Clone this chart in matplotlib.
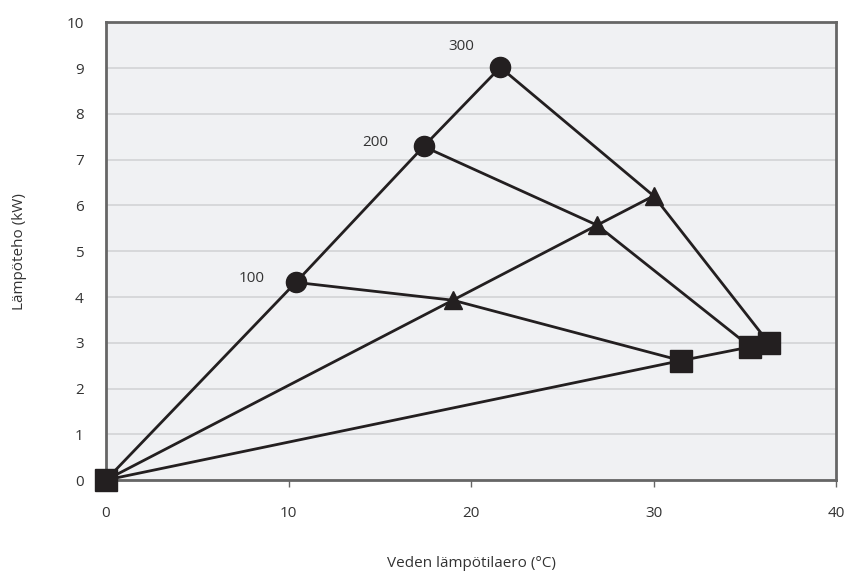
import matplotlib
matplotlib.use("Agg")
import matplotlib.pyplot as plt

plt.rcParams['font.family'] = ['Open Sans', 'DejaVu Sans']

# Data
circle_x = [0, 10.4, 17.4, 21.6]
circle_y = [0, 4.32, 7.29, 9.02]
tri_x = [0, 19.0, 26.9, 30.0]
tri_y = [0, 3.93, 5.57, 6.21]
sq_x = [0, 31.5, 35.3, 36.3]
sq_y = [0, 2.61, 2.91, 3.0]
flow_labels = ["100", "200", "300"]

x_ticks = [0, 10, 20, 30, 40]
y_ticks = list(range(0, 11))

black = '#231f20'
fs = 11
fig = plt.figure(figsize=(8.45, 5.72), dpi=100)
ax = fig.add_axes([0.1254, 0.1608, 0.8642, 0.7999])
ax.set_facecolor('#f0f1f3')

lw = 2.0
# lines from origin
ax.plot(circle_x, circle_y, color=black, lw=lw, zorder=3)
ax.plot(tri_x, tri_y, color=black, lw=lw, zorder=3)
ax.plot(sq_x, sq_y, color=black, lw=lw, zorder=3)
# connecting lines per flow
for i in range(1, 4):
    ax.plot([circle_x[i], tri_x[i], sq_x[i]], [circle_y[i], tri_y[i], sq_y[i]],
            color=black, lw=lw, zorder=3)

# markers
ax.plot(circle_x[1:], circle_y[1:], 'o', color=black, ms=14.5, zorder=4, clip_on=False)
ax.plot(tri_x[1:], tri_y[1:], '^', color=black, ms=13, zorder=4, clip_on=False)
ax.plot(sq_x, sq_y, 's', color=black, ms=16, zorder=5, clip_on=False)

# flow labels
offsets = [(-2.4, 0.08), (-2.65, 0.08), (-2.15, 0.45)]
for i, lab in enumerate(flow_labels):
    dx, dy = offsets[i]
    ax.text(circle_x[i + 1] + dx, circle_y[i + 1] + dy, lab, fontsize=fs,
            color='#333333', ha='center', va='center', zorder=6)

ax.set_xlim(0, 40)
ax.set_ylim(0, 10)
ax.set_xticks(x_ticks)
ax.set_yticks(y_ticks)
ax.grid(axis='y', color='#d3d3d5', lw=1.2, zorder=1)
ax.set_axisbelow(True)
for s in ax.spines.values():
    s.set_color('#666666')
    s.set_linewidth(2)
ax.tick_params(axis='x', length=5, width=1, color='#666666', pad=14, labelsize=fs, labelcolor='#333333')
ax.tick_params(axis='y', length=0, pad=16, labelsize=fs, labelcolor='#333333')

ax.set_xlabel('Veden lämpötilaero (°C)', fontsize=fs, color='#333333', labelpad=25)
ax.set_ylabel('Lämpöteho (kW)', fontsize=fs, color='#333333', labelpad=28)

fig.savefig('out.png', dpi=100)
